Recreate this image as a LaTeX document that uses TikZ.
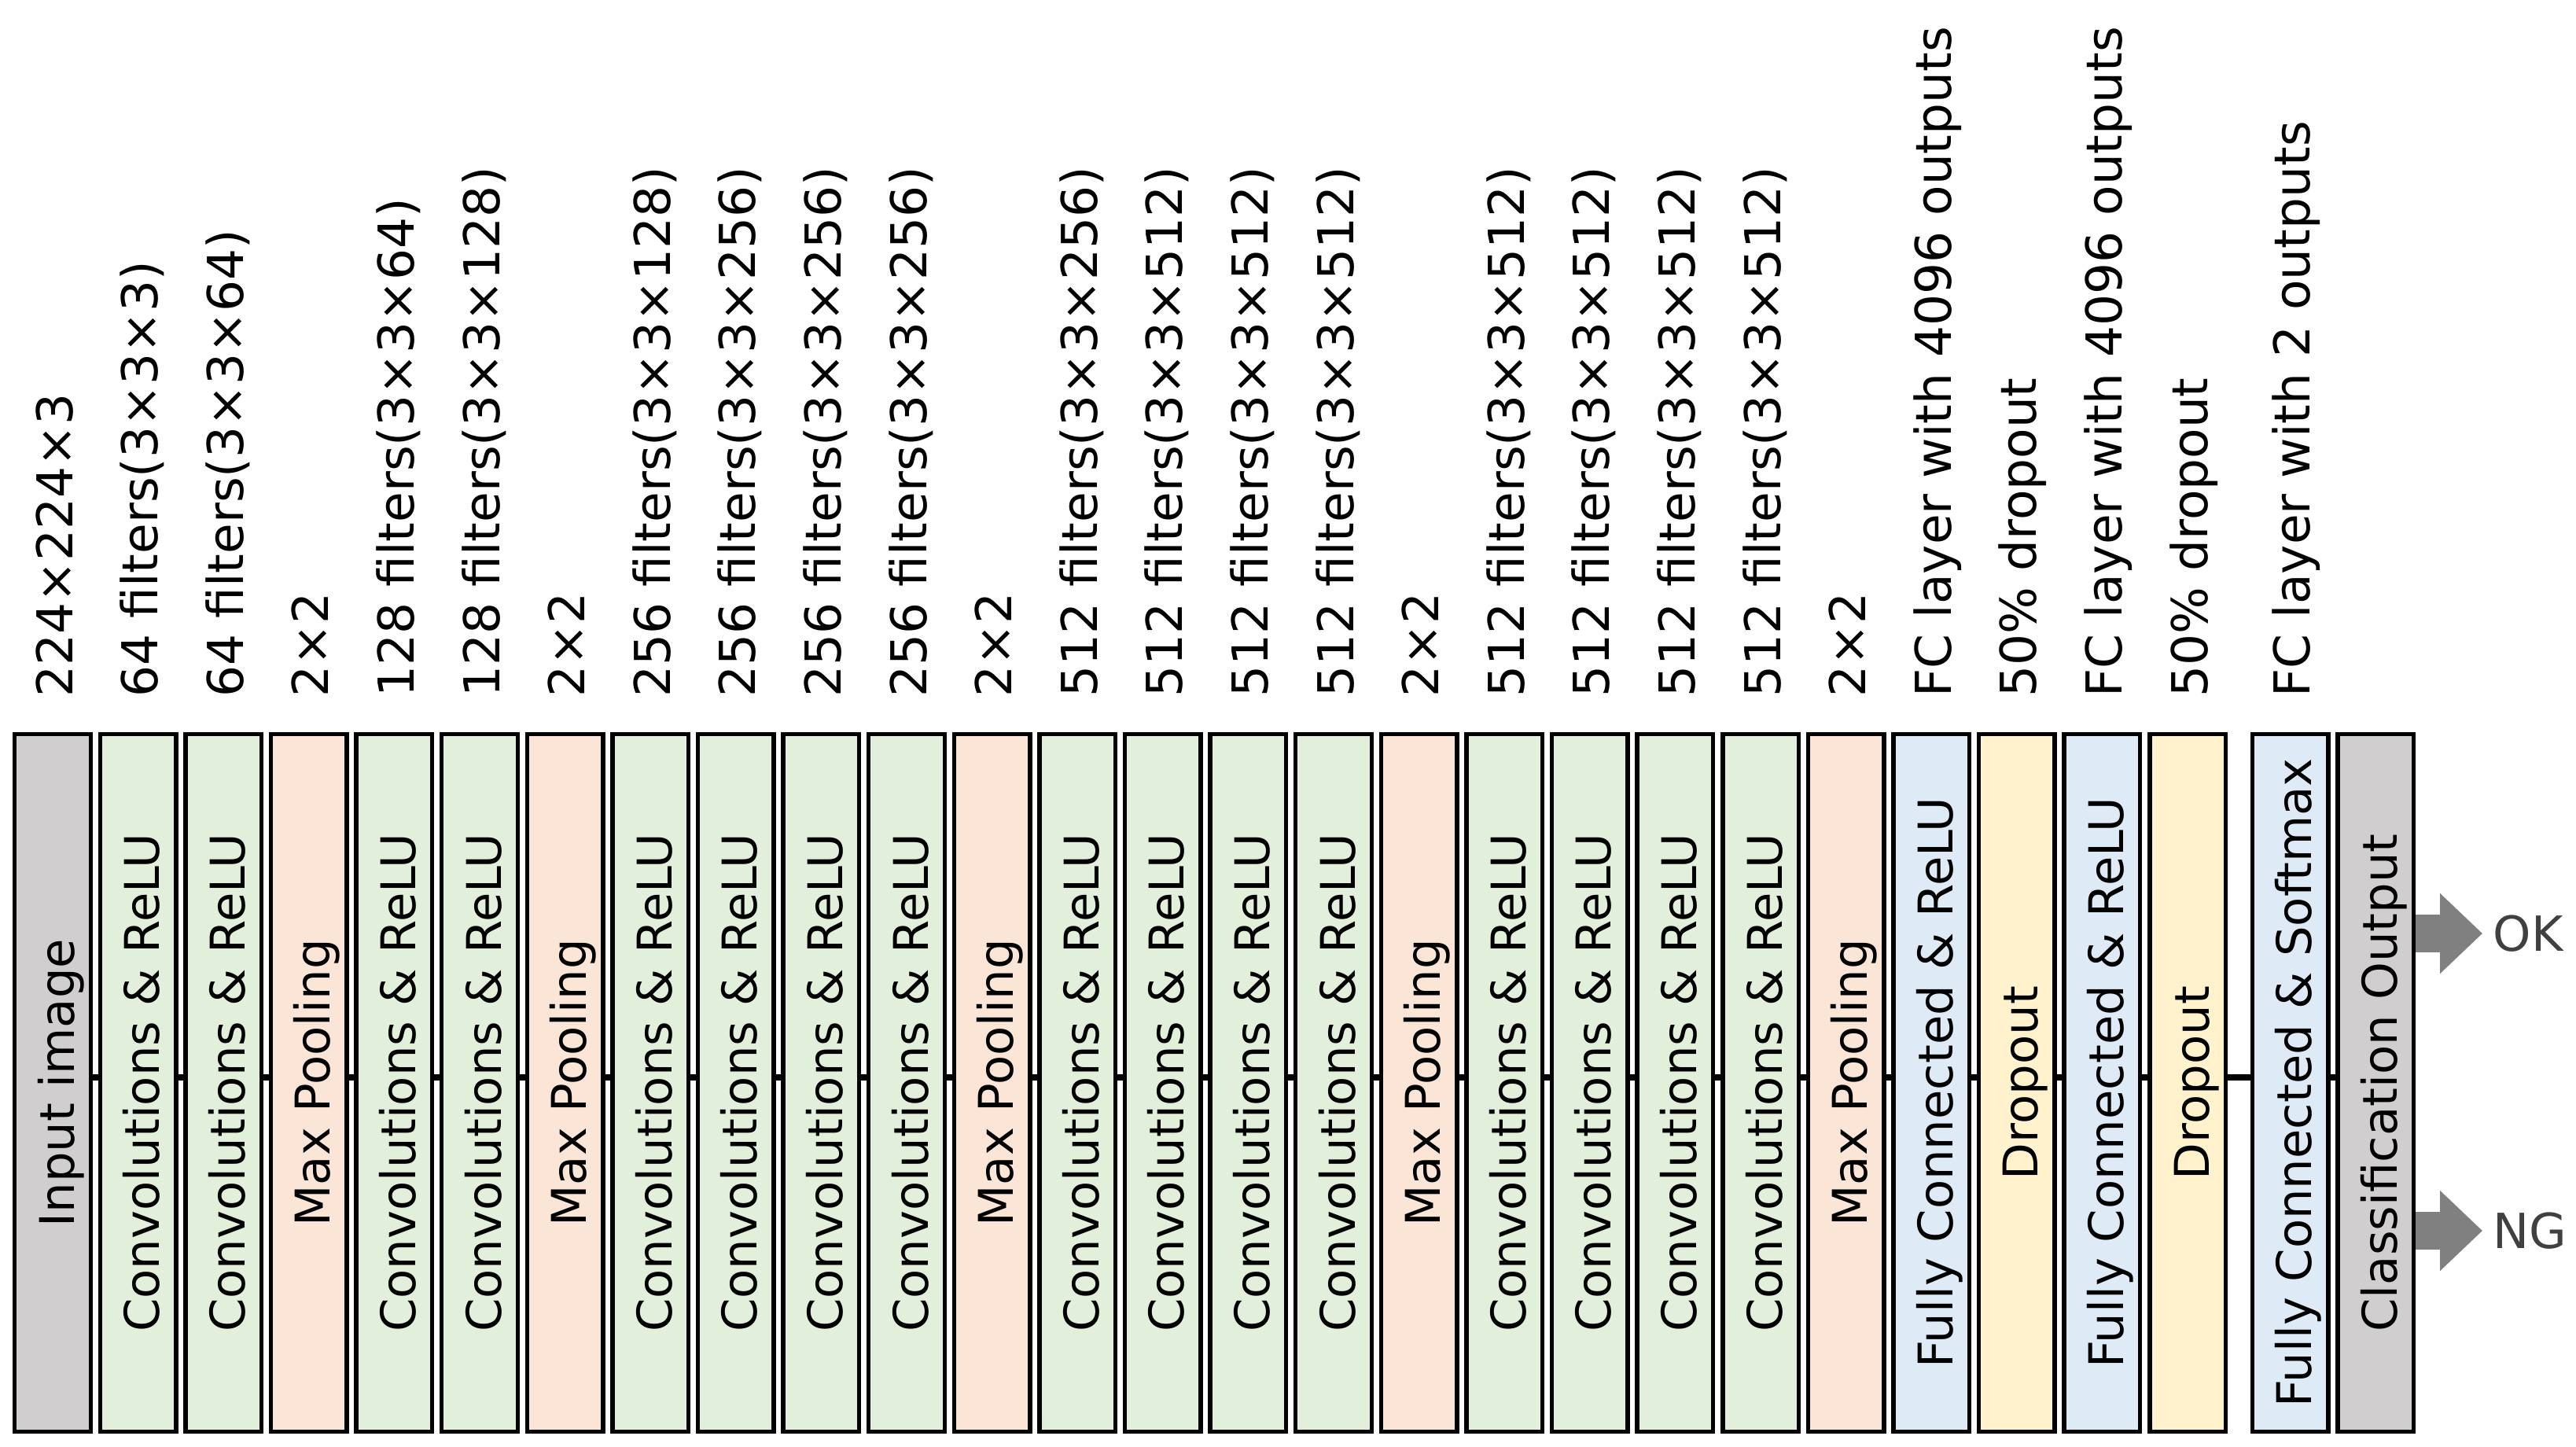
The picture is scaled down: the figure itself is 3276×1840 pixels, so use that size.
\documentclass[tikz,border=0pt]{standalone}
\usepackage{fontspec}
\setmainfont{DejaVu Sans}
\usetikzlibrary{arrows.meta}

\definecolor{inputgray}{HTML}{D0CECE}
\definecolor{convgreen}{HTML}{E2EFDA}
\definecolor{poolpeach}{HTML}{FBE5D6}
\definecolor{fcblue}{HTML}{DEEBF7}
\definecolor{dropyellow}{HTML}{FFF2CC}
\definecolor{arrowgray}{HTML}{808080}
\definecolor{verdictgray}{HTML}{404040}

\begin{document}
\begin{tikzpicture}[
    x=0.01cm,y=-0.01cm,
    layer/.style={draw=black,line width=0.055cm,rotate=90,
        minimum width=8.865cm,minimum height=0.965cm,inner sep=0pt,
        text height=0.54cm,text depth=0pt,
        font=\fontsize{17.3}{20}\selectfont},
    info/.style={rotate=90,anchor=base west,inner sep=0pt,
        font=\fontsize{17.9}{21}\selectfont},
    link/.style={line width=0.08cm},
    result/.style={draw=arrowgray,line width=0.48cm,
        -{Triangle[length=0.54cm,width=0.99cm]}},
    verdict/.style={anchor=west,inner sep=0pt,text=verdictgray,
        font=\fontsize{17.5}{21}\selectfont}
]

\useasboundingbox (0,0) rectangle (3276,1840);

% layers and their settings
\foreach \i/\col/\txt/\lab in {
    0/inputgray/Input image/224×224×3,
    1/convgreen/Convolutions \& ReLU/64 filters(3×3×3),
    2/convgreen/Convolutions \& ReLU/64 filters(3×3×64),
    3/poolpeach/Max Pooling/2×2,
    4/convgreen/Convolutions \& ReLU/128 filters(3×3×64),
    5/convgreen/Convolutions \& ReLU/128 filters(3×3×128),
    6/poolpeach/Max Pooling/2×2,
    7/convgreen/Convolutions \& ReLU/256 filters(3×3×128),
    8/convgreen/Convolutions \& ReLU/256 filters(3×3×256),
    9/convgreen/Convolutions \& ReLU/256 filters(3×3×256),
    10/convgreen/Convolutions \& ReLU/256 filters(3×3×256),
    11/poolpeach/Max Pooling/2×2,
    12/convgreen/Convolutions \& ReLU/512 filters(3×3×256),
    13/convgreen/Convolutions \& ReLU/512 filters(3×3×512),
    14/convgreen/Convolutions \& ReLU/512 filters(3×3×512),
    15/convgreen/Convolutions \& ReLU/512 filters(3×3×512),
    16/poolpeach/Max Pooling/2×2,
    17/convgreen/Convolutions \& ReLU/512 filters(3×3×512),
    18/convgreen/Convolutions \& ReLU/512 filters(3×3×512),
    19/convgreen/Convolutions \& ReLU/512 filters(3×3×512),
    20/convgreen/Convolutions \& ReLU/512 filters(3×3×512),
    21/poolpeach/Max Pooling/2×2,
    22/fcblue/Fully Connected \& ReLU/FC layer with 4096 outputs,
    23/dropyellow/Dropout/50\% dropout,
    24/fcblue/Fully Connected \& ReLU/FC layer with 4096 outputs,
    25/dropyellow/Dropout/50\% dropout,
    26/fcblue/Fully Connected \& Softmax/FC layer with 2 outputs}
{
    \node[layer,fill=\col] (layer\i) at ({67+108.6*\i+22*(\i>25)},1377) {\txt};
    \node[info] (info\i) at ({92+108.6*\i+22*(\i>25)},887) {\lab};
}
\node[layer,fill=inputgray] (layer27) at (3021,1377) {Classification Output};

\foreach \i [evaluate=\i as \j using int(\i+1)] in {0,...,26}
    \draw[link] ([yshift=0.07cm]layer\i.south) -- ([yshift=0.07cm]layer\j.north);

% outputs
\node[verdict] (ok) at (3170,1187) {OK};
\node[verdict] (ng) at (3170,1565) {NG};
\draw[result] (layer27.south |- ok) -- ([xshift=-0.13cm]ok.west);
\draw[result] (layer27.south |- ng) -- ([xshift=-0.13cm]ng.west);

\end{tikzpicture}
\end{document}
